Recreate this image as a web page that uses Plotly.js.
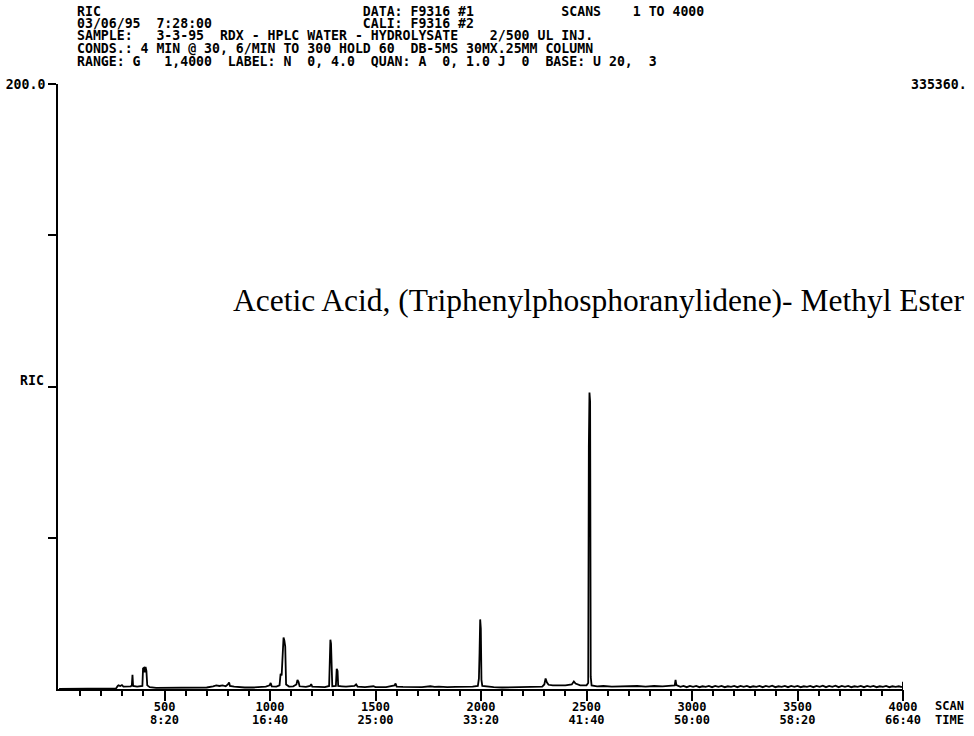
<!DOCTYPE html>
<html>
<head>
<meta charset="utf-8">
<script src="https://cdn.plot.ly/plotly-3.0.1.min.js"></script>
<style>
  html, body { margin: 0; padding: 0; background: #ffffff; }
  #chart { width: 974px; height: 736px; }
</style>
</head>
<body>
<div id="chart"></div>
<script>
// Reconstructed ion current (RIC) trace, scan number vs. relative intensity
const scanNumber = [
  0, 270, 278, 282, 290, 298, 305, 320, 340, 345, 348, 351, 370, 395, 398, 402, 406, 410, 414, 418,
  430, 460, 500, 540, 580, 620, 660, 700, 730, 745, 760, 775, 790, 800, 806, 810, 830, 850, 880, 920,
  950, 980, 998, 1003, 1008, 1030, 1045, 1050, 1055, 1060, 1064, 1068, 1072, 1076, 1090, 1110, 1125, 1130, 1135, 1140,
  1170, 1190, 1195, 1200, 1230, 1260, 1280, 1283, 1286, 1289, 1292, 1295, 1312, 1316, 1320, 1323, 1340, 1360, 1400, 1408,
  1415, 1450, 1490, 1500, 1550, 1590, 1595, 1600, 1630, 1680, 1720, 1760, 1780, 1800, 1840, 1880, 1920, 1960, 1985, 1990,
  1993, 1996, 1999, 2002, 2006, 2030, 2060, 2100, 2150, 2200, 2250, 2290, 2300, 2306, 2312, 2320, 2340, 2370, 2400, 2430,
  2440, 2448, 2470, 2500, 2508, 2511, 2514, 2517, 2520, 2524, 2550, 2580, 2620, 2660, 2700, 2740, 2780, 2820, 2860, 2900,
  2918, 2922, 2926, 2945, 2960, 2975, 2990, 3005, 3020, 3035, 3050, 3065, 3080, 3095, 3110, 3125, 3140, 3155, 3170, 3185,
  3200, 3215, 3230, 3245, 3260, 3275, 3290, 3305, 3320, 3335, 3350, 3365, 3380, 3395, 3410, 3425, 3440, 3455, 3470, 3485,
  3500, 3515, 3530, 3545, 3560, 3575, 3590, 3605, 3620, 3635, 3650, 3665, 3680, 3695, 3710, 3725, 3740, 3755, 3770, 3785,
  3800, 3815, 3830, 3845, 3860, 3875, 3890, 3905, 3920, 3935, 3950, 3965, 3980, 3995
];
const ricPercent = [
  0, 0.2, 1.0, 1.2, 1.0, 1.3, 0.8, 0.9, 0.9, 1.2, 4.7, 1.0, 0.8, 1.0, 6.8, 7.0, 5.5, 7.3, 6.0, 1.2,
  0.6, 0.4, 0.4, 0.3, 0.4, 0.4, 0.3, 0.5, 0.9, 1.2, 1.0, 1.2, 0.9, 1.5, 2.2, 1.0, 0.8, 0.6, 0.5, 0.5,
  0.6, 0.8, 1.2, 2.0, 0.9, 0.8, 1.2, 5.0, 4.5, 12.0, 17.0, 16.0, 14.0, 1.5, 0.8, 0.9, 1.5, 3.0, 2.4, 0.9,
  0.7, 1.0, 1.6, 0.8, 0.7, 0.6, 1.0, 7.0, 16.3, 15.0, 5.0, 0.9, 1.0, 6.7, 6.0, 1.0, 0.9, 0.8, 1.0, 1.5,
  0.8, 0.6, 0.9, 0.6, 0.6, 1.2, 1.8, 0.8, 0.7, 0.6, 0.6, 0.9, 0.7, 0.8, 0.6, 0.7, 0.7, 0.8, 1.0, 3.5,
  12.0, 23.0, 20.0, 3.0, 1.0, 0.8, 0.6, 0.5, 0.6, 0.5, 0.7, 0.8, 1.5, 3.5, 2.2, 1.4, 1.2, 1.1, 1.2, 1.5,
  2.5, 1.8, 1.2, 1.2, 2.0, 80.0, 98.0, 95.0, 4.0, 1.2, 0.9, 1.0, 0.8, 0.9, 0.8, 1.0, 0.8, 1.0, 0.9, 1.0,
  1.2, 3.0, 1.3, 0.7, 1.0, 0.6, 1.0, 0.7, 1.0, 0.6, 0.9, 0.7, 1.0, 0.6, 1.0, 0.7, 1.0, 0.6, 0.9, 0.7,
  1.0, 0.6, 1.0, 0.7, 1.0, 0.6, 0.9, 0.7, 1.0, 0.6, 1.0, 0.7, 1.1, 0.6, 0.9, 0.7, 1.0, 0.6, 1.0, 0.7,
  1.0, 0.6, 0.9, 0.7, 1.0, 0.6, 1.0, 0.7, 1.1, 0.6, 1.0, 0.7, 1.1, 0.6, 1.0, 0.7, 1.0, 0.6, 0.9, 0.7,
  1.0, 0.6, 1.0, 0.7, 1.0, 0.6, 0.9, 0.7, 1.0, 0.6, 0.9, 0.7, 0.9, 0.6
];

// Axis ticks: scan numbers and the matching retention times
const scanTicks = [500, 1000, 1500, 2000, 2500, 3000, 3500, 4000];
const scanMinorTicks = [
  100, 200, 300, 400, 600, 700, 800, 900, 1100, 1200, 1300, 1400, 1600, 1700, 1800, 1900,
  2100, 2200, 2300, 2400, 2600, 2700, 2800, 2900, 3100, 3200, 3300, 3400, 3600, 3700, 3800, 3900
];
const scanTickText = ['500', '1000', '1500', '2000', '2500', '3000', '3500', '4000'];
const timeTickText = ['8:20', '16:40', '25:00', '33:20', '41:40', '50:00', '58:20', '66:40'];
const ricTicks = [50, 100, 150, 200];
const ricTickText = ['', '', '', '200.0'];
const ricLabel = 'RIC';
const ricLabelLevel = 100;

// Instrument header block
const headerLines = [
  'RIC                                 DATA: F9316 #1           SCANS    1 TO 4000',
  '03/06/95  7:28:00                   CALI: F9316 #2',
  'SAMPLE:   3-3-95  RDX - HPLC WATER - HYDROLYSATE    2/500 UL INJ.',
  'CONDS.: 4 MIN @ 30, 6/MIN TO 300 HOLD 60  DB-5MS 30MX.25MM COLUMN',
  'RANGE: G   1,4000  LABEL: N  0, 4.0  QUAN: A  0, 1.0 J  0  BASE: U 20,  3'
];
const fullScaleCount = '335360.';
const compoundName = 'Acetic Acid, (Triphenylphosphoranylidene)- Methyl Ester';

// Plot area geometry (pixels)
const M = { l: 58, r: 71, t: 84, b: 47 };
const W = 974, H = 736;
const plotW = W - M.l - M.r, plotH = H - M.t - M.b;
const px = p => (p - M.l) / plotW;
const py = p => (H - M.b - p) / plotH;

const mono = { family: 'DejaVu Sans Mono, monospace', size: 13.2, color: '#000000', weight: 'bold' };
const monoTick = { family: 'DejaVu Sans Mono, monospace', size: 12, color: '#000000', weight: 'bold' };
const keepSpaces = s => s.replace(/ /g, '\u00a0');

const headerY = [11, 23.5, 36, 48.5, 61];
const annotations = headerLines.map((line, i) => ({
  text: keepSpaces(line), xref: 'paper', yref: 'paper',
  x: px(75), y: py(headerY[i]), xanchor: 'left', yanchor: 'middle',
  showarrow: false, font: mono
}));
annotations.push({
  text: fullScaleCount, xref: 'paper', yref: 'paper', x: px(969), y: py(84),
  xanchor: 'right', yanchor: 'middle', showarrow: false, font: mono
});
// the RIC level label sits just above its tick on the intensity axis
annotations.push({
  text: ricLabel, xref: 'paper', yref: 'y', x: px(46), y: ricLabelLevel, yshift: 6,
  xanchor: 'right', yanchor: 'middle', showarrow: false, font: mono
});
annotations.push({
  text: 'SCAN', xref: 'paper', yref: 'paper', x: px(933), y: py(706),
  xanchor: 'left', yanchor: 'middle', showarrow: false, font: monoTick
});
annotations.push({
  text: 'TIME', xref: 'paper', yref: 'paper', x: px(933), y: py(720),
  xanchor: 'left', yanchor: 'middle', showarrow: false, font: monoTick
});
annotations.push({
  text: compoundName, xref: 'paper', yref: 'paper', x: px(599), y: py(300),
  xanchor: 'center', yanchor: 'middle', showarrow: false,
  font: { family: 'Liberation Serif, Times New Roman, serif', size: 31.5, color: '#000000', weight: 'normal' }
});

// Every 100 scans gets a short tick; the time label sits under each 500-scan mark
const allScanTicks = scanTicks.concat(scanMinorTicks).sort((a, b) => a - b);
const allTimeText = allScanTicks.map(v => {
  const k = scanTicks.indexOf(v);
  return k >= 0 ? timeTickText[k] : '';
});

const trace = {
  type: 'scatter', mode: 'lines',
  x: scanNumber, y: ricPercent,
  line: { color: '#000000', width: 1.8 },
  hoverinfo: 'skip', showlegend: false
};

const layout = {
  width: W, height: H,
  margin: M,
  paper_bgcolor: '#ffffff', plot_bgcolor: '#ffffff',
  showlegend: false,
  font: mono,
  xaxis: {
    range: [-5, 4000], showgrid: false, zeroline: false,
    showline: true, linecolor: '#000000', linewidth: 2,
    tickmode: 'array', tickvals: scanTicks, ticktext: scanTickText,
    ticks: 'outside', ticklen: 10, tickwidth: 2, tickcolor: '#000000',
    ticklabelstandoff: -4,
    tickfont: monoTick, fixedrange: true
  },
  xaxis2: {
    overlaying: 'x', matches: 'x', anchor: 'y', side: 'bottom',
    range: [-5, 4000], showgrid: false, zeroline: false, showline: false,
    tickmode: 'array', tickvals: allScanTicks, ticktext: allTimeText,
    ticks: 'outside', ticklen: 6, tickwidth: 2, tickcolor: '#000000',
    ticklabelstandoff: 14,
    tickfont: monoTick, fixedrange: true
  },
  yaxis: {
    range: [0, 200], showgrid: false, zeroline: false,
    showline: true, linecolor: '#000000', linewidth: 2,
    tickmode: 'array', tickvals: ricTicks, ticktext: ricTickText,
    ticks: 'outside', ticklen: 8, tickwidth: 2, tickcolor: '#000000',
    tickfont: mono, fixedrange: true
  },
  shapes: [
    // closing mark at the end of the scan axis
    { type: 'line', xref: 'x', yref: 'paper', x0: 4000, x1: 4000, y0: 0, y1: 0.012, line: { color: '#000000', width: 2 } }
  ],
  annotations: annotations
};

// an empty trace keeps the secondary time axis on screen
const timeAxisTrace = { type: 'scatter', mode: 'none', x: [scanTicks[0]], y: [0], xaxis: 'x2', yaxis: 'y', hoverinfo: 'skip', showlegend: false };

Plotly.newPlot('chart', [trace, timeAxisTrace], layout, { staticPlot: true, displayModeBar: false });
</script>
</body>
</html>
